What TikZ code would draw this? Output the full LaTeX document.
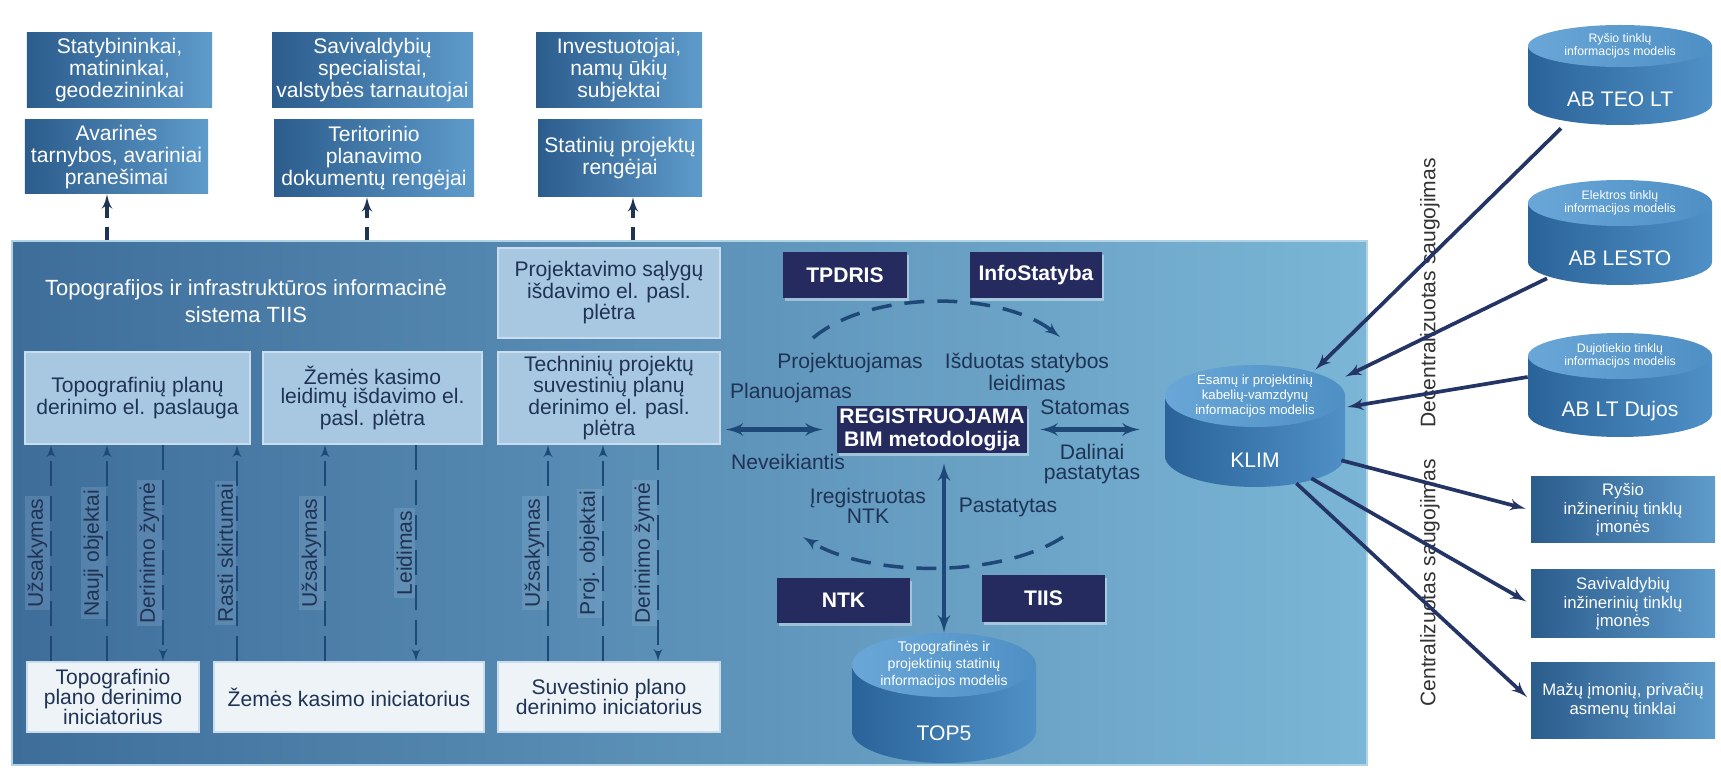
\documentclass[tikz,border=0pt]{standalone}
\usepackage{fontspec}
\setmainfont{Liberation Sans}
\usetikzlibrary{shapes, arrows, shadows, positioning, calc, fit}
\definecolor{topL}{HTML}{2B5C8C}
\definecolor{topR}{HTML}{5E9BCB}
\definecolor{mainL}{HTML}{3E6D9A}
\definecolor{mainR}{HTML}{7BB6D6}
\definecolor{lightC}{HTML}{A8C7E1}
\definecolor{lightD}{HTML}{C9DDEE}
\definecolor{paleC}{HTML}{EEF3F8}
\definecolor{navyC}{HTML}{252B5E}
\definecolor{inkC}{HTML}{1F3354}
\definecolor{lineC}{HTML}{1E4877}
\definecolor{cylL}{HTML}{2A6399}
\definecolor{cylR}{HTML}{4F90C6}
\definecolor{cylTopL}{HTML}{6AA7D8}
\definecolor{cylTopR}{HTML}{4E8FC4}
\tikzstyle{mainbox}=[rectangle, left color=mainL, right color=mainR, draw=mainR!60!white, line width=0.8pt]
\tikzstyle{topbox}=[rectangle, align=center, left color=topL, right color=topR, text=white, inner sep=1pt,
  font=\fontsize{12}{12.5}\selectfont]
\tikzstyle{lbox}=[rectangle, align=center, fill=lightC, draw=lightD, line width=1pt, text=inkC, inner sep=1pt,
  font=\fontsize{12}{11}\selectfont]
\tikzstyle{wbox}=[rectangle, align=center, fill=paleC, draw=lightD, line width=0.8pt, text=inkC, inner sep=1pt,
  font=\fontsize{12}{11.5}\selectfont]
\tikzstyle{navy}=[rectangle, align=center, fill=navyC, text=white, inner sep=0pt, font=\bfseries\fontsize{12}{13}\selectfont,
  drop shadow={shadow xshift=0.3mm, shadow yshift=-0.7mm, fill=white, opacity=0.4}]
\tikzstyle{lbl}=[align=center, text=inkC, inner sep=1pt, font=\fontsize{12}{11}\selectfont]
\tikzstyle{vlbl}=[rotate=90, anchor=south, text=inkC, inner sep=1.5pt, fill=lightC, fill opacity=0.2, text opacity=1,
  font=\fontsize{12}{12}\selectfont]
\tikzstyle{rbox}=[rectangle, align=center, left color=topL, right color=topR, text=white, inner sep=1pt,
  font=\fontsize{9.5}{10.5}\selectfont]
\tikzstyle{sidelbl}=[rotate=90, text=black!80, font=\fontsize{12}{12}\selectfont]
\tikzstyle{updash}=[->, >=latex', line width=1.8pt, draw=inkC, dash pattern=on 2.6mm off 1.8mm]
\tikzstyle{vdash}=[->, >=latex', line width=1.4pt, draw=lineC, dash pattern=on 5mm off 2mm]
\tikzstyle{arcdash}=[->, >=latex', line width=2pt, draw=lineC, dash pattern=on 4mm off 2.6mm]
\tikzstyle{dblarrow}=[<->, >=latex', line width=2.4pt, draw=lineC]
\tikzstyle{feed}=[->, >=latex', line width=2.1pt, draw=navyC!70!lineC]
\tikzstyle{cylbody}=[left color=cylL, right color=cylR]
\tikzstyle{cyltop}=[left color=cylTopL, right color=cylTopR]
% database cylinder: name, cx, top, bottom, rx, ry, small font, small text, name text
\newcommand{\dbcyl}[9]{%
  \shade[cylbody] (#2,{#4-#6}) ellipse ({#5*0.2mm} and {#6*0.2mm});
  \shade[cylbody] ({#2-#5},{#3+#6}) rectangle ({#2+#5},{#4-#6});
  \shade[cyltop] (#2,{#3+#6}) ellipse ({#5*0.2mm} and {#6*0.2mm});
  \node (#1) [fit={({#2-#5},#3) ({#2+#5},#4)}, inner sep=0pt] {};
  \node (#1-top) [align=center, text=white, inner sep=0pt, #7] at (#2,{#3+#6}) {#8};
  \node (#1-name) [text=white, font=\fontsize{12}{12}\selectfont] at (#2,{(#3+2*#6+#4)/2+3}) {#9};
}

\begin{document}
\begin{tikzpicture}[x=0.2mm, y=-0.2mm]
  \useasboundingbox (0,0) rectangle (1721,768);
  \fill[white] (0,0) rectangle (1721,768);

  % TIIS system
  \node (tiis) [mainbox, minimum width=271mm, minimum height=104.8mm] at (689.5,503) {};
  \node (tiistitle) [font=\fontsize{12.5}{15}\selectfont, text=white, align=center] at (246,301)
    {Topografijos ir infrastruktūros informacinė\\sistema TIIS};
  \node (l1) [lbox, minimum width=45mm, minimum height=18.4mm] at (137.5,398) {Topografinių planų\\derinimo el. paslauga};
  \node (l2) [lbox, minimum width=43.8mm, minimum height=18.4mm] at (372.5,398) {Žemės kasimo\\leidimų išdavimo el.\\pasl. plėtra};
  \node (l3) [lbox, minimum width=44.4mm, minimum height=18mm] at (609,293) {Projektavimo sąlygų\\išdavimo el. pasl.\\plėtra};
  \node (l4) [lbox, minimum width=44.4mm, minimum height=18.4mm] at (609,398) {Techninių projektų\\suvestinių planų\\derinimo el. pasl.\\plėtra};
  \node (w1) [wbox, minimum width=34.4mm, minimum height=14mm] at (113,697) {Topografinio\\plano derinimo\\iniciatorius};
  \node (w2) [wbox, minimum width=54mm, minimum height=14mm] at (349,697) {Žemės kasimo iniciatorius};
  \node (w3) [wbox, minimum width=44.4mm, minimum height=14mm] at (609,697) {Suvestinio plano\\derinimo iniciatorius};

  \draw [vdash] (51,0 |- w1.north) -- node[vlbl] {Užsakymas} (51,0 |- l1.south);
  \draw [vdash] (107,0 |- w1.north) -- node[vlbl] {Nauji objektai} (107,0 |- l1.south);
  \draw [vdash] (163,0 |- l1.south) -- node[vlbl] {Derinimo žymė} (163,0 |- w1.north);
  \draw [vdash] (237,0 |- w2.north) -- node[vlbl] {Rasti skirtumai} (237,0 |- l1.south);
  \draw [vdash] (325,0 |- w2.north) -- node[vlbl] {Užsakymas} (325,0 |- l2.south);
  \draw [vdash] (416,0 |- l2.south) -- node[vlbl] {Leidimas} (416,0 |- w2.north);
  \draw [vdash] (548,0 |- w3.north) -- node[vlbl] {Užsakymas} (548,0 |- l4.south);
  \draw [vdash] (603,0 |- w3.north) -- node[vlbl] {Proj. objektai} (603,0 |- l4.south);
  \draw [vdash] (658,0 |- l4.south) -- node[vlbl] {Derinimo žymė} (658,0 |- w3.north);

  % registers round the BIM cycle
  \node (tpdris) [navy, minimum width=24.8mm, minimum height=9.2mm] at (845,275) {TPDRIS};
  \node (infostatyba) [navy, minimum width=26.4mm, minimum height=9.2mm] at (1036,275) {InfoStatyba};
  \node (reg) [navy, minimum width=38mm, minimum height=9.4mm] at (932,429.5) {REGISTRUOJAMA\\BIM metodologija};
  \node (ntk) [navy, minimum width=26.6mm, minimum height=9mm] at (843.5,600.5) {NTK};
  \node (tiisdb) [navy, minimum width=24.6mm, minimum height=9.4mm] at (1043.5,598.5) {TIIS};

  \node (proj) [lbl] at (850,363) {Projektuojamas};
  \node (isduotas) [lbl] at (1027,372) {Išduotas statybos\\leidimas};
  \node (plan) [lbl] at (791,393) {Planuojamas};
  \node (statomas) [lbl] at (1085,407) {Statomas};
  \node (neveik) [lbl] at (788,462) {Neveikiantis};
  \node (dalinai) [lbl] at (1092,464) {Dalinai\\pastatytas};
  \node (ireg) [lbl] at (868,506) {Įregistruotas\\NTK};
  \node (pastatytas) [lbl] at (1008,507) {Pastatytas};

  \coordinate (arcA) at (813,338);
  \coordinate (arcB) at (1060,337);
  \coordinate (arcC) at (1063,537);
  \coordinate (arcD) at (803,537);
  \draw [arcdash] (arcA) .. controls (870,290) and (1000,290) .. (arcB);
  \draw [arcdash] (arcC) .. controls (1000,578) and (870,578) .. (arcD);

  \dbcyl{klim}{1255}{365}{487}{90}{31}{font=\fontsize{7.5}{8.5}\selectfont}{Esamų ir projektinių\\kabelių-vamzdynų\\informacijos modelis}{KLIM}
  \dbcyl{top5}{944}{633}{763}{92}{32}{font=\fontsize{8}{9.5}\selectfont}{Topografinės ir\\projektinių statinių\\informacijos modelis}{TOP5}

  \draw [dblarrow, shorten <=1mm, shorten >=2.8mm] (l4.east |- reg.west) -- (reg.west);
  \draw [dblarrow, shorten <=2.6mm, shorten >=5mm] (reg.east) -- (reg.east -| klim.west);
  \draw [dblarrow, shorten <=2mm] (top5.north |- reg.south) -- (top5.north);

  % users above the system
  \node (stat) [topbox, minimum width=37mm, minimum height=15mm] at (119.5,70.5) {Statybininkai,\\matininkai,\\geodezininkai};
  \node (avar) [topbox, minimum width=36.6mm, minimum height=14.8mm] at (116.5,157) {Avarinės\\tarnybos, avariniai\\pranešimai};
  \node (savi) [topbox, minimum width=40.2mm, minimum height=15mm] at (372.5,70.5) {Savivaldybių\\specialistai,\\valstybės tarnautojai};
  \node (terit) [topbox, minimum width=40mm, minimum height=15.4mm] at (374,158.5) {Teritorinio\\planavimo\\dokumentų rengėjai};
  \node (inv) [topbox, minimum width=33.2mm, minimum height=15mm] at (619,70.5) {Investuotojai,\\namų ūkių\\subjektai};
  \node (stprj) [topbox, minimum width=32.8mm, minimum height=15.4mm] at (620,158.5) {Statinių projektų\\rengėjai};

  \coordinate (avarIn) at ([xshift=-1.9mm]avar.south);
  \coordinate (teritIn) at ([xshift=-1.4mm]terit.south);
  \coordinate (stprjIn) at ([xshift=2.6mm]stprj.south);
  \draw [updash] (avarIn |- tiis.north) -- (avarIn);
  \draw [updash] (teritIn |- tiis.north) -- (teritIn);
  \draw [updash] (stprjIn |- tiis.north) -- (stprjIn);

  % storage of the network models
  \node (decent) [sidelbl] at (1430,293) {Decentralizuotas saugojimas};
  \node (cent) [sidelbl] at (1430,583) {Centralizuotas saugojimas};

  \dbcyl{teo}{1620}{25}{125}{92}{21}{font=\fontsize{7}{7.5}\selectfont}{Ryšio tinklų\\informacijos modelis}{AB TEO LT}
  \dbcyl{lesto}{1620}{180}{285}{92}{23}{font=\fontsize{7}{7.5}\selectfont}{Elektros tinklų\\informacijos modelis}{AB LESTO}
  \dbcyl{dujos}{1620}{333}{437}{92}{23}{font=\fontsize{7}{7.5}\selectfont}{Dujotiekio tinklų\\informacijos modelis}{AB LT Dujos}

  \node (r1) [rbox, minimum width=36.8mm, minimum height=13.2mm] at (1623,510) {Ryšio\\inžinerinių tinklų\\įmonės};
  \node (r2) [rbox, minimum width=36.8mm, minimum height=13.6mm] at (1623,604) {Savivaldybių\\inžinerinių tinklų\\įmonės};
  \node (r3) [rbox, minimum width=36.8mm, minimum height=15mm] at (1623,700.5) {Mažų įmonių, privačių\\asmenų tinklai};

  \draw [feed] ($(teo.south)+(-59,3)$) -- ($(klim.north east)+(-30,5)$);
  \draw [feed] ($(lesto.south)+(-73,-7)$) -- ($(klim.north east)+(0,12)$);
  \draw [feed] ($(dujos.west)+(0,-8)$) -- ($(klim.east)+(2,-19)$);
  \draw [feed, shorten >=1mm] ($(klim.south east)+(-4,-27)$) -- (r1.west);
  \draw [feed, shorten >=1mm] ($(klim.south east)+(-34,-9)$) -- (r2.west);
  \draw [feed, shorten >=1mm] ($(klim.south east)+(-49,-4)$) -- (r3.west);
\end{tikzpicture}
\end{document}
